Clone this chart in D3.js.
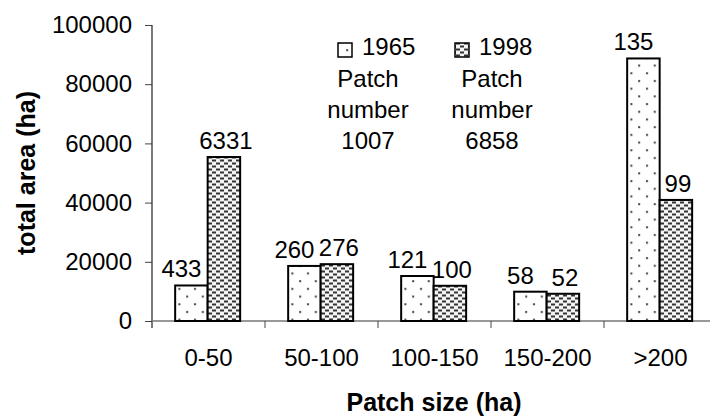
<!DOCTYPE html>
<html>
<head>
<meta charset="utf-8">
<script src="https://cdn.jsdelivr.net/npm/d3@7"></script>
<style>
  body { margin: 0; background: #fff; }
  text { font-family: Arial, "Liberation Sans", sans-serif; fill: #000; }
</style>
</head>
<body>
<script>
// patch size classes and the two survey years
const categories = ['0-50', '50-100', '100-150', '150-200', '>200']
const years = ['1965', '1998']
// total area (ha)
const area1965 = [12000, 18600, 15200, 9900, 88700]
const area1998 = [55400, 19200, 11900, 9200, 40900]
// patch counts written above bars
const count1965 = [433, 260, 121, 58, 135]
const count1998 = [6331, 276, 100, 52, 99]
const totalPatches = [1007, 6858]
const yTicks = [0, 20000, 40000, 60000, 80000, 100000]

const W = 710, H = 417
const plotLeft = 152, plotTop = 25, plotBottom = 321

const svg = d3.select('body').append('svg')
  .attr('width', W)
  .attr('height', H)

// patterns
const defs = svg.append('defs')
const p1 = defs.append('pattern')
  .attr('id', 'dots')
  .attr('patternUnits', 'userSpaceOnUse')
  .attr('width', 15.6).attr('height', 15.4)
p1.append('rect').attr('width', 15.6).attr('height', 15.4).attr('fill', '#fff')
p1.append('rect').attr('x', 3).attr('y', 3).attr('width', 2).attr('height', 2).attr('fill', '#444')
p1.append('rect').attr('x', 10.8).attr('y', 10.7).attr('width', 2).attr('height', 2).attr('fill', '#444')

const p2 = defs.append('pattern')
  .attr('id', 'dashes')
  .attr('patternUnits', 'userSpaceOnUse')
  .attr('width', 8).attr('height', 6)
p2.append('rect').attr('width', 8).attr('height', 6).attr('fill', '#f4f4f4')
p2.append('rect').attr('x', 0).attr('y', 0.5).attr('width', 4).attr('height', 2).attr('fill', '#333')
p2.append('rect').attr('x', 4).attr('y', 3.5).attr('width', 4).attr('height', 2).attr('fill', '#333')

const fills = ['url(#dots)', 'url(#dashes)']
// labels in the original sit a little left of the 1965 bars
const labelShift = [-10, 2]

const y = d3.scaleLinear().domain([0, 100000]).range([plotBottom, plotTop])
const x0 = d3.scaleBand().domain(categories).range([plotLeft, plotLeft + 113 * 5])
const x1 = d3.scaleBand().domain(years)
  .range([x0.bandwidth() * 0.205, x0.bandwidth() * 0.78])

const rows = categories.map((c, i) => ({
  cat: c,
  vals: [
    {year: years[0], k: 0, v: area1965[i], n: count1965[i]},
    {year: years[1], k: 1, v: area1998[i], n: count1998[i]}
  ]
}))

// y axis
const yAxis = svg.append('g')
  .attr('transform', `translate(${plotLeft},0)`)
  .call(d3.axisLeft(y).tickValues(yTicks).tickSize(7).tickSizeOuter(0).tickPadding(13).tickFormat(d3.format('d')))
yAxis.select('.domain').remove()
yAxis.selectAll('.tick line').attr('stroke', '#444')
yAxis.selectAll('text').attr('font-size', 24).attr('font-family', 'Arial, "Liberation Sans", sans-serif')
svg.append('line')
  .attr('x1', plotLeft).attr('x2', plotLeft)
  .attr('y1', plotTop).attr('y2', plotBottom + 7)
  .attr('stroke', '#222').attr('stroke-width', 1.2)

// x axis
svg.append('line')
  .attr('x1', plotLeft).attr('x2', W)
  .attr('y1', plotBottom).attr('y2', plotBottom)
  .attr('stroke', '#777').attr('stroke-width', 1.5)
svg.selectAll('.xtick')
  .data(categories.slice(1))
  .enter()
  .append('line')
  .attr('class', 'xtick')
  .attr('x1', d => x0(d)).attr('x2', d => x0(d))
  .attr('y1', plotBottom).attr('y2', plotBottom + 7)
  .attr('stroke', '#444')
svg.selectAll('.xlab')
  .data(categories)
  .enter()
  .append('text')
  .attr('class', 'xlab')
  .attr('x', d => x0(d) + x0.bandwidth() / 2)
  .attr('y', 366)
  .attr('text-anchor', 'middle')
  .attr('font-size', 24)
  .text(d => d)

// bars
const groups = svg.selectAll('.grp')
  .data(rows)
  .enter()
  .append('g')
  .attr('class', 'grp')
  .attr('transform', d => `translate(${x0(d.cat)},0)`)

groups.selectAll('rect')
  .data(d => d.vals)
  .enter()
  .append('rect')
  .attr('x', d => x1(d.year))
  .attr('y', d => y(d.v))
  .attr('width', x1.bandwidth())
  .attr('height', d => plotBottom - y(d.v))
  .attr('fill', d => fills[d.k])
  .attr('stroke', '#000')
  .attr('stroke-width', 2)

groups.selectAll('.num')
  .data(d => d.vals)
  .enter()
  .append('text')
  .attr('class', 'num')
  .attr('x', d => x1(d.year) + x1.bandwidth() / 2 + labelShift[d.k])
  .attr('y', d => y(d.v) - 8)
  .attr('text-anchor', 'middle')
  .attr('font-size', 24)
  .text(d => d.n)

// legend
const legX = [338, 455]
const legCx = [368, 492]
years.forEach((yr, i) => {
  const g = svg.append('g')
  g.append('rect')
    .attr('x', legX[i]).attr('y', 43)
    .attr('width', 14).attr('height', 14)
    .attr('fill', fills[i])
    .attr('stroke', '#000').attr('stroke-width', 1.5)
  g.append('text')
    .attr('x', legX[i] + 24).attr('y', 55)
    .attr('font-size', 24)
    .text(yr)
  const lines = ['Patch', 'number', totalPatches[i]]
  lines.forEach((t, k) => {
    g.append('text')
      .attr('x', legCx[i]).attr('y', 87 + k * 31)
      .attr('text-anchor', 'middle')
      .attr('font-size', 24)
      .text(t)
  })
})

// axis titles
svg.append('text')
  .attr('x', 434).attr('y', 411)
  .attr('text-anchor', 'middle')
  .attr('font-size', 25)
  .attr('font-weight', 'bold')
  .text('Patch size (ha)')

svg.append('text')
  .attr('transform', `translate(35,173) rotate(-90)`)
  .attr('text-anchor', 'middle')
  .attr('font-size', 25)
  .attr('font-weight', 'bold')
  .text('total area (ha)')
</script>
</body>
</html>
